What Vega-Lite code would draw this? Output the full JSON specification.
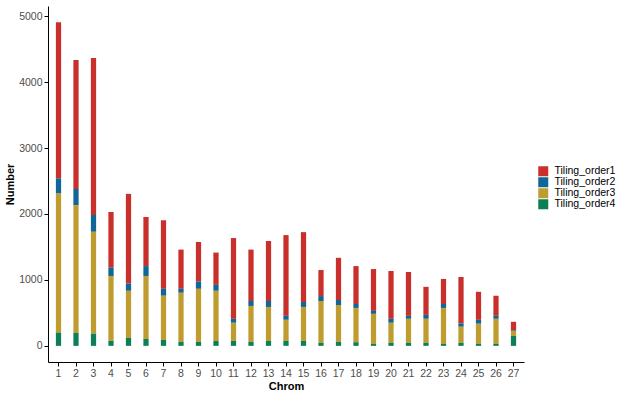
{
  "$schema": "https://vega.github.io/schema/vega-lite/v6.json",
  "autosize": "none",
  "width": 476,
  "height": 356,
  "padding": {"left": 48, "top": 6, "right": 111, "bottom": 35},
  "background": "white",
  "config": {
    "view": {"stroke": null},
    "font": "Liberation Sans",
    "axis": {"grid": false, "domainColor": "black", "tickColor": "black", "labelColor": "#4D4D4D", "labelFontSize": 10.5, "titleFontSize": 11, "titleFontWeight": "bold", "titleColor": "black", "tickSize": 4, "domainWidth": 1, "tickWidth": 1}
  },
  "data": {"values": [
    {"chrom":1,"type":"Tiling_order1","n":2370},{"chrom":1,"type":"Tiling_order2","n":230},{"chrom":1,"type":"Tiling_order3","n":2110},{"chrom":1,"type":"Tiling_order4","n":200},
    {"chrom":2,"type":"Tiling_order1","n":1955},{"chrom":2,"type":"Tiling_order2","n":245},{"chrom":2,"type":"Tiling_order3","n":1940},{"chrom":2,"type":"Tiling_order4","n":195},
    {"chrom":3,"type":"Tiling_order1","n":2380},{"chrom":3,"type":"Tiling_order2","n":255},{"chrom":3,"type":"Tiling_order3","n":1545},{"chrom":3,"type":"Tiling_order4","n":185},
    {"chrom":4,"type":"Tiling_order1","n":845},{"chrom":4,"type":"Tiling_order2","n":125},{"chrom":4,"type":"Tiling_order3","n":985},{"chrom":4,"type":"Tiling_order4","n":75},
    {"chrom":5,"type":"Tiling_order1","n":1360},{"chrom":5,"type":"Tiling_order2","n":110},{"chrom":5,"type":"Tiling_order3","n":715},{"chrom":5,"type":"Tiling_order4","n":120},
    {"chrom":6,"type":"Tiling_order1","n":745},{"chrom":6,"type":"Tiling_order2","n":150},{"chrom":6,"type":"Tiling_order3","n":955},{"chrom":6,"type":"Tiling_order4","n":105},
    {"chrom":7,"type":"Tiling_order1","n":1040},{"chrom":7,"type":"Tiling_order2","n":105},{"chrom":7,"type":"Tiling_order3","n":670},{"chrom":7,"type":"Tiling_order4","n":90},
    {"chrom":8,"type":"Tiling_order1","n":595},{"chrom":8,"type":"Tiling_order2","n":60},{"chrom":8,"type":"Tiling_order3","n":745},{"chrom":8,"type":"Tiling_order4","n":60},
    {"chrom":9,"type":"Tiling_order1","n":600},{"chrom":9,"type":"Tiling_order2","n":110},{"chrom":9,"type":"Tiling_order3","n":805},{"chrom":9,"type":"Tiling_order4","n":60},
    {"chrom":10,"type":"Tiling_order1","n":490},{"chrom":10,"type":"Tiling_order2","n":90},{"chrom":10,"type":"Tiling_order3","n":760},{"chrom":10,"type":"Tiling_order4","n":75},
    {"chrom":11,"type":"Tiling_order1","n":1225},{"chrom":11,"type":"Tiling_order2","n":60},{"chrom":11,"type":"Tiling_order3","n":275},{"chrom":11,"type":"Tiling_order4","n":75},
    {"chrom":12,"type":"Tiling_order1","n":780},{"chrom":12,"type":"Tiling_order2","n":75},{"chrom":12,"type":"Tiling_order3","n":545},{"chrom":12,"type":"Tiling_order4","n":60},
    {"chrom":13,"type":"Tiling_order1","n":910},{"chrom":13,"type":"Tiling_order2","n":90},{"chrom":13,"type":"Tiling_order3","n":515},{"chrom":13,"type":"Tiling_order4","n":75},
    {"chrom":14,"type":"Tiling_order1","n":1225},{"chrom":14,"type":"Tiling_order2","n":60},{"chrom":14,"type":"Tiling_order3","n":320},{"chrom":14,"type":"Tiling_order4","n":75},
    {"chrom":15,"type":"Tiling_order1","n":1060},{"chrom":15,"type":"Tiling_order2","n":75},{"chrom":15,"type":"Tiling_order3","n":515},{"chrom":15,"type":"Tiling_order4","n":75},
    {"chrom":16,"type":"Tiling_order1","n":395},{"chrom":16,"type":"Tiling_order2","n":75},{"chrom":16,"type":"Tiling_order3","n":635},{"chrom":16,"type":"Tiling_order4","n":45},
    {"chrom":17,"type":"Tiling_order1","n":640},{"chrom":17,"type":"Tiling_order2","n":75},{"chrom":17,"type":"Tiling_order3","n":560},{"chrom":17,"type":"Tiling_order4","n":60},
    {"chrom":18,"type":"Tiling_order1","n":575},{"chrom":18,"type":"Tiling_order2","n":60},{"chrom":18,"type":"Tiling_order3","n":520},{"chrom":18,"type":"Tiling_order4","n":55},
    {"chrom":19,"type":"Tiling_order1","n":635},{"chrom":19,"type":"Tiling_order2","n":45},{"chrom":19,"type":"Tiling_order3","n":455},{"chrom":19,"type":"Tiling_order4","n":30},
    {"chrom":20,"type":"Tiling_order1","n":725},{"chrom":20,"type":"Tiling_order2","n":60},{"chrom":20,"type":"Tiling_order3","n":305},{"chrom":20,"type":"Tiling_order4","n":45},
    {"chrom":21,"type":"Tiling_order1","n":665},{"chrom":21,"type":"Tiling_order2","n":45},{"chrom":21,"type":"Tiling_order3","n":365},{"chrom":21,"type":"Tiling_order4","n":45},
    {"chrom":22,"type":"Tiling_order1","n":425},{"chrom":22,"type":"Tiling_order2","n":60},{"chrom":22,"type":"Tiling_order3","n":365},{"chrom":22,"type":"Tiling_order4","n":45},
    {"chrom":23,"type":"Tiling_order1","n":380},{"chrom":23,"type":"Tiling_order2","n":60},{"chrom":23,"type":"Tiling_order3","n":545},{"chrom":23,"type":"Tiling_order4","n":30},
    {"chrom":24,"type":"Tiling_order1","n":705},{"chrom":24,"type":"Tiling_order2","n":50},{"chrom":24,"type":"Tiling_order3","n":245},{"chrom":24,"type":"Tiling_order4","n":45},
    {"chrom":25,"type":"Tiling_order1","n":425},{"chrom":25,"type":"Tiling_order2","n":60},{"chrom":25,"type":"Tiling_order3","n":305},{"chrom":25,"type":"Tiling_order4","n":30},
    {"chrom":26,"type":"Tiling_order1","n":305},{"chrom":26,"type":"Tiling_order2","n":45},{"chrom":26,"type":"Tiling_order3","n":380},{"chrom":26,"type":"Tiling_order4","n":30},
    {"chrom":27,"type":"Tiling_order1","n":130},{"chrom":27,"type":"Tiling_order2","n":10},{"chrom":27,"type":"Tiling_order3","n":75},{"chrom":27,"type":"Tiling_order4","n":150}
  ]},
  "mark": {"type": "bar"},
  "encoding": {
    "x": {"field": "chrom", "type": "ordinal", "title": "Chrom",
      "scale": {"paddingInner": 0.7, "paddingOuter": 0.45},
      "axis": {"labelAngle": 0, "labelPadding": 2, "titlePadding": 2}},
    "y": {"field": "n", "type": "quantitative", "aggregate": "sum", "stack": "zero", "title": "Number",
      "scale": {"domain": [-245, 5155], "nice": false, "zero": false},
      "axis": {"values": [0, 1000, 2000, 3000, 4000, 5000], "format": "d", "labelPadding": 2, "titlePadding": 3}},
    "color": {"field": "type", "type": "nominal",
      "scale": {"domain": ["Tiling_order1", "Tiling_order2", "Tiling_order3", "Tiling_order4"], "range": ["#C9302B", "#0E6699", "#BF9C30", "#0C7F55"]},
      "legend": {"title": null, "orient": "none", "legendX": 490, "legendY": 160, "symbolType": "square", "symbolSize": 100, "symbolStrokeWidth": 0, "labelFontSize": 10.5, "labelColor": "black", "rowPadding": 0, "labelOffset": 6}},
    "order": {"field": "type", "sort": "descending"}
  }
}
